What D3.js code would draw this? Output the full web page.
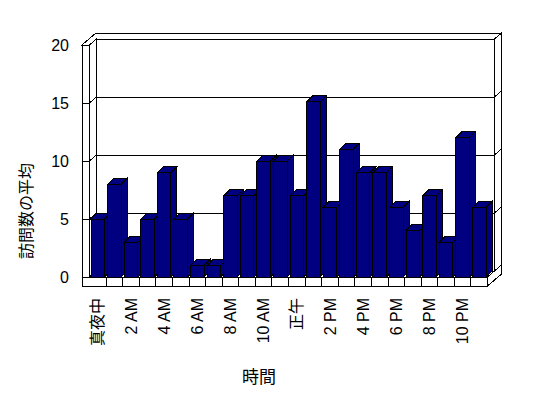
<!DOCTYPE html>
<html>
<head>
<meta charset="utf-8">
<script src="https://cdn.jsdelivr.net/npm/d3@7"></script>
<style>
  html, body { margin: 0; padding: 0; background: #fff; }
  svg { display: block; font-family: "Liberation Sans", Arial, "Noto Sans CJK JP", sans-serif; }
  svg path, svg line { shape-rendering: crispEdges; }
</style>
</head>
<body>
<div id="chart"></div>
<script>
const hours = ['真夜中', '1 AM', '2 AM', '3 AM', '4 AM', '5 AM', '6 AM', '7 AM', '8 AM', '9 AM', '10 AM', '11 AM',
  '正午', '1 PM', '2 PM', '3 PM', '4 PM', '5 PM', '6 PM', '7 PM', '8 PM', '9 PM', '10 PM', '11 PM'];
const visits = [5, 8, 3, 5, 9, 5, 1, 1, 7, 7, 10, 10, 7, 15.1, 6, 11, 9, 9, 6, 4, 7, 3, 12, 6];
const yTicks = [0, 5, 10, 15, 20];
const yTitle = '訪問数の平均';
const xTitle = '時間';

const width = 548, height = 398;
const navy = '#000080';

// front plane of the plot box
const x0 = 89.5, x1 = 487.5, yBase = 277, yTop = 45, floorBottom = 286, wallLeft = 82;
const dx = 7, dy = 6;       // depth of the plot box (front -> back wall)
const bdx = 6, bdy = 6;     // bar depth

const x = d3.scaleBand().domain(hours).range([x0, x1]);
const y = d3.scaleLinear().domain([0, 20]).range([yBase, yTop]);

const svg = d3.select('#chart').append('svg')
  .attr('width', width).attr('height', height);

const line = d3.line();
function poly(pts, fill) {
  svg.append('path')
    .attr('d', line(pts) + 'Z')
    .attr('fill', fill)
    .attr('stroke', '#000')
    .attr('stroke-width', 1);
}

// walls and floor
poly([[x0 + dx, yTop - dy], [x1 + dx, yTop - dy], [x1 + dx, yBase - dy], [x0 + dx, yBase - dy]], '#fff');
poly([[x1 + dx, yTop - dy], [x1 + 2 * dx, yTop - 2 * dy], [x1 + 2 * dx, yBase - 2 * dy], [x1 + dx, yBase - dy]], '#fff');
poly([[wallLeft, yTop], [x0, yTop], [x0 + dx, yTop - dy], [x1 + dx, yTop - dy],
  [x1 + 2 * dx, yTop - 2 * dy], [wallLeft + 2 * dx, yTop - 2 * dy]], '#fff');
poly([[x0, yTop], [x0 + dx, yTop - dy], [x0 + dx, yBase - dy], [x0, yBase]], '#fff');
poly([[wallLeft, yTop], [x0, yTop], [x0, floorBottom], [wallLeft, floorBottom]], '#fff');
poly([[x0, yBase], [x1, yBase], [x1 + dx, yBase - dy], [x0 + dx, yBase - dy]], '#fff');
poly([[x1, yBase], [x1 + 2 * dx, yBase - 2 * dy], [x1 + 2 * dx, floorBottom - 2 * dy], [x1, floorBottom]], '#fff');
poly([[wallLeft, yBase], [x1, yBase], [x1, floorBottom], [wallLeft, floorBottom]], '#fff');

// category dividers on the floor front
hours.slice(1).forEach(function(h) {
  svg.append('line')
    .attr('x1', x(h)).attr('x2', x(h))
    .attr('y1', yBase).attr('y2', floorBottom)
    .attr('stroke', '#000');
});

// gridlines wrapping the left wall, back wall and its edge
yTicks.forEach(function(v) {
  const yy = y(v);
  svg.append('path')
    .attr('d', line([[wallLeft, yy], [x0, yy], [x0 + dx, yy - dy], [x1 + dx, yy - dy], [x1 + 2 * dx, yy - 2 * dy]]))
    .attr('fill', 'none')
    .attr('stroke', '#000');
});

// bars
const bw = x.bandwidth() - 3;
hours.forEach(function(h, i) {
  const bx = x(h) + 1.5;
  const by = y(visits[i]);
  poly([[bx, by], [bx + bw, by], [bx + bw, yBase], [bx, yBase]], navy);
  poly([[bx, by], [bx + bdx, by - bdy], [bx + bw + bdx, by - bdy], [bx + bw, by]], navy);
  poly([[bx + bw, by], [bx + bw + bdx, by - bdy], [bx + bw + bdx, yBase - bdy], [bx + bw, yBase]], navy);
});

// y tick labels
svg.selectAll('.ytick')
  .data(yTicks)
  .enter().append('text')
  .attr('class', 'ytick')
  .attr('x', 69)
  .attr('y', function(d) { return y(d); })
  .attr('dy', '0.35em')
  .attr('text-anchor', 'end')
  .attr('font-size', '16px')
  .text(function(d) { return d; });

// x tick labels (every other hour)
hours.forEach(function(h, i) {
  if (i % 2 !== 0) return;
  const cx = x(h) + x.bandwidth() / 2;
  svg.append('text')
    .attr('transform', 'translate(' + cx + ',298) rotate(-90)')
    .attr('dy', '0.35em')
    .attr('text-anchor', 'end')
    .attr('font-size', '16px')
    .text(h);
});

// axis titles
svg.append('text')
  .attr('transform', 'translate(26,211) rotate(-90)')
  .attr('dy', '0.35em')
  .attr('text-anchor', 'middle')
  .attr('font-size', '16px')
  .text(yTitle);

svg.append('text')
  .attr('x', 259)
  .attr('y', 377)
  .attr('dy', '0.35em')
  .attr('text-anchor', 'middle')
  .attr('font-size', '17px')
  .text(xTitle);
</script>
</body>
</html>
